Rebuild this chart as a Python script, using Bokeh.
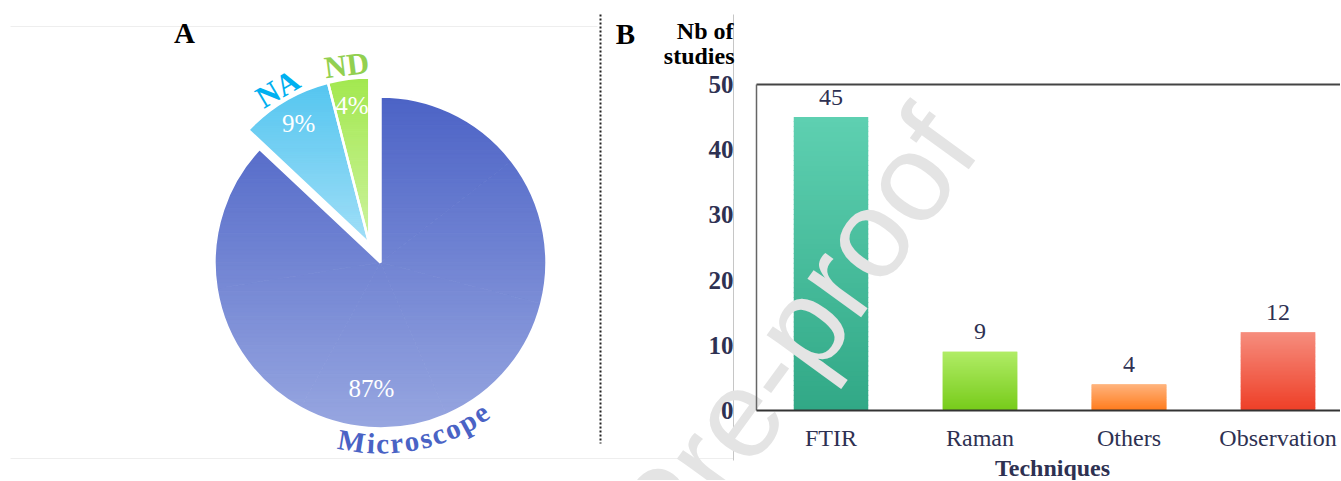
import numpy as np
from bokeh.plotting import figure
from bokeh.models import Range1d
from bokeh.embed import file_html
from bokeh.resources import INLINE
from bokeh.core.properties import value

# ---------------- data ----------------
pie_labels = ["Microscope", "NA", "ND"]
pie_values = [87, 9, 4]
pie_pct_text = ["87%", "9%", "4%"]

techniques = ["FTIR", "Raman", "Others", "Observation"]
n_studies = [45, 9, 4, 12]
y_ticks = [0, 10, 20, 30, 40, 50]

# ---------------- styles ----------------
pie_top = ["#4c63c6", "#55c6f0", "#a3e84f"]
pie_bot = ["#97a6e0", "#a0def7", "#cdf3a0"]
pie_label_colors = ["#4a63c5", "#00b0f0", "#92d050"]
bar_top = ["#5ed0b1", "#b0ec66", "#ffb37d", "#f68d7e"]
bar_bot = ["#31a886", "#77cb1a", "#ff7b1c", "#ee3f27"]
SERIF = "Liberation Serif"
NAVY = "#2e3152"

W, H = 1340, 480


def hex2rgb(h):
    h = h.lstrip("#")
    return np.array([int(h[i:i + 2], 16) for i in (0, 2, 4)], dtype=float)


def mix(c0, c1, t):
    a, b = hex2rgb(c0), hex2rgb(c1)
    c = a + (b - a) * t
    return "#%02x%02x%02x" % tuple(int(round(v)) for v in c)


def clip_y(pts, lo, hi):
    for bound, above in ((lo, True), (hi, False)):
        out = []
        n = len(pts)
        if n == 0:
            return []
        for i in range(n):
            p0 = pts[i]
            q0 = pts[(i + 1) % n]
            pin = (p0[1] >= bound) if above else (p0[1] <= bound)
            qin = (q0[1] >= bound) if above else (q0[1] <= bound)
            if pin:
                out.append(p0)
            if pin != qin:
                t = (bound - p0[1]) / (q0[1] - p0[1])
                out.append((p0[0] + t * (q0[0] - p0[0]), bound))
        pts = out
    return pts


p = figure(width=W, height=H, x_range=Range1d(0, W), y_range=Range1d(0, H),
           output_backend="svg", toolbar_location=None, x_axis_type=None,
           y_axis_type=None, min_border=0, title=None)
p.outline_line_color = None

# faint page lines and separators (pixel units, y up)
p.line([10, 597], [H - 26, H - 26], line_color="#eeeeee", line_width=1)
p.line([10, 733], [H - 458, H - 458], line_color="#eeeeee", line_width=1)
p.line([733, 733], [H - 14, H - 460], line_color="#c6c6c6", line_width=1)
p.line([600, 600], [H - 14, H - 443], line_color="#222222", line_width=2, line_dash="2 2")

# ---------------- pie (panel A), 1 data unit = 1 px ----------------
CX, CY, R = 380.0, 218.0, 166.0
shift_ang = np.deg2rad(120.6)
shift_d = 22.0
sdx, sdy = shift_d * np.cos(shift_ang), shift_d * np.sin(shift_ang)
offsets = [(0.0, 0.0), (sdx, sdy), (sdx, sdy)]

vals = np.array(pie_values, dtype=float)
frac = vals / vals.sum()
cum = np.concatenate([[0], np.cumsum(frac)])
a0 = 90.0 - cum[:-1] * 360.0   # start angles (deg), clockwise
a1 = 90.0 - cum[1:] * 360.0
bis = (a0 + a1) / 2.0

NB = 80
band_xs, band_ys, band_cols = [], [], []
for i in range(len(vals)):
    cx, cy = CX + offsets[i][0], CY + offsets[i][1]
    full = np.deg2rad(np.linspace(a0[i], a1[i], 400))
    fy = cy + R * np.sin(full)
    ytop, ybot = max(fy.max(), cy), min(fy.min(), cy)
    npieces = int(np.ceil((a0[i] - a1[i]) / 60.0))
    edges = np.linspace(a0[i], a1[i], npieces + 1)
    h = (ytop - ybot) / NB
    for j in range(npieces):
        angs = np.deg2rad(np.linspace(edges[j], edges[j + 1], 80))
        poly = [(cx, cy)] + [(cx + R * np.cos(a), cy + R * np.sin(a)) for a in angs]
        for k in range(NB):
            hi = ytop - k * h + 0.3
            lo = ytop - (k + 1) * h - 0.3
            c = clip_y(poly, lo, hi)
            if len(c) < 3:
                continue
            band_xs.append([q[0] for q in c])
            band_ys.append([q[1] for q in c])
            band_cols.append(mix(pie_top[i], pie_bot[i], (k + 0.5) / NB))

p.patches(band_xs, band_ys, fill_color=band_cols, line_color=band_cols, line_width=0.7)

# white slice borders
p.wedge(x=[CX + o[0] for o in offsets], y=[CY + o[1] for o in offsets], radius=R,
        start_angle=list(np.deg2rad(a0)), end_angle=list(np.deg2rad(a1)),
        direction="clock", fill_alpha=0, line_color="white", line_width=2.5)

# percentage labels
pct_x, pct_y = [], []
for i in range(len(vals)):
    if i == 0:
        pct_x.append(CX - 9)
        pct_y.append(CY - 126)
    else:
        cx, cy = CX + offsets[i][0], CY + offsets[i][1]
        pct_x.append(cx + 139 * np.cos(np.deg2rad(bis[i])))
        pct_y.append(cy + 139 * np.sin(np.deg2rad(bis[i])))
p.text(pct_x, pct_y, text=pie_pct_text, text_color="white", text_font=value(SERIF),
       text_font_size="25px", text_align="center", text_baseline="middle")

# category labels NA / ND along slice bisectors
for i in (1, 2):
    cx, cy = CX + offsets[i][0], CY + offsets[i][1]
    rc = 180
    p.text([cx + rc * np.cos(np.deg2rad(bis[i]))], [cy + rc * np.sin(np.deg2rad(bis[i]))],
           text=[pie_labels[i]], angle=np.deg2rad(bis[i] - 90), text_color=pie_label_colors[i],
           text_font=value(SERIF), text_font_style="bold", text_font_size="31px",
           text_align="center", text_baseline="middle")

# curved "Microscope" label
adv = {"M": .943, "i": .278, "c": .444, "r": .444, "o": .5, "s": .389, "p": .556, "e": .444}
word = pie_labels[0]
fs = 29
spacing = 1.1
rc = 181.0
centre_deg = -79.0
w = [adv[ch] for ch in word]
tot = sum(w)
lx, ly, la = [], [], []
acc = 0.0
for ch, wi in zip(word, w):
    c = acc + wi / 2.0
    acc += wi
    off = (c - tot / 2.0) * fs * spacing
    ang = np.deg2rad(centre_deg) + off / rc
    lx.append(CX + rc * np.cos(ang))
    ly.append(CY + rc * np.sin(ang))
    la.append(ang + np.pi / 2)
p.text(lx, ly, text=list(word), angle=la, text_color=pie_label_colors[0],
       text_font=value(SERIF), text_font_style="bold", text_font_size="%dpx" % fs,
       text_align="center", text_baseline="middle")

p.text([184], [H - 32], text=["A"], text_font=value(SERIF), text_font_style="bold",
       text_font_size="29px", text_color="black", text_align="center", text_baseline="middle")

# ---------------- bars (panel B) on their own scales ----------------
FRAME_LEFT, BASE_Y, TOP_Y = 756.0, 410.0, 84.0
PX_PER_CAT = 149.0
YPX = (BASE_Y - TOP_Y) / 50.0
p.extra_x_ranges = {"bx": Range1d(-FRAME_LEFT / PX_PER_CAT, (W - FRAME_LEFT) / PX_PER_CAT)}
p.extra_y_ranges = {"by": Range1d(-(H - BASE_Y) / YPX, BASE_Y / YPX)}
XEND = (W - FRAME_LEFT) / PX_PER_CAT
BR = dict(x_range_name="bx", y_range_name="by")

xs = np.arange(len(techniques)) + 0.5
NBAR = 60
bx, bb, bt, bc = [], [], [], []
for i, v in enumerate(n_studies):
    for k in range(NBAR):
        bx.append(xs[i])
        bb.append(v * k / NBAR)
        bt.append(min(v, v * (k + 1) / NBAR + 0.15))
        bc.append(mix(bar_bot[i], bar_top[i], (k + 0.5) / NBAR))
p.vbar(x=bx, width=0.5, bottom=bb, top=bt, fill_color=bc, line_color=None, **BR)

# watermark
p.text([947], [H - 124], text=["Journal Pre-proof"], angle=np.deg2rad(54),
       text_font=value("Liberation Sans"), text_font_size="125px", text_color="#e4e4e4",
       text_align="right", text_baseline="alphabetic")

# frame lines / axes
p.line([0, XEND], [50, 50], line_color="#444444", line_width=2, **BR)
p.line([0, 0], [0, 50], line_color="#666666", line_width=1.5, **BR)
p.line([0, XEND], [0, 0], line_color="#333333", line_width=2, **BR)

# y tick labels
p.text([0] * len(y_ticks), y_ticks, text=[str(t) for t in y_ticks], x_offset=-23,
       text_font=value(SERIF), text_font_style="bold", text_font_size="25px",
       text_color=NAVY, text_align="right", text_baseline="middle", **BR)
# x tick labels
p.text(xs, [0] * len(xs), text=techniques, y_offset=14, text_font=value(SERIF),
       text_font_size="24px", text_color=NAVY, text_align="center", text_baseline="top", **BR)
# value labels
p.text(xs, n_studies, text=[str(v) for v in n_studies], y_offset=-20,
       text_font=value(SERIF), text_font_size="24px", text_color=NAVY,
       text_align="center", text_baseline="middle", **BR)

# titles of panel B (pixel units)
p.text([625], [H - 33], text=["B"], text_font=value(SERIF), text_font_style="bold",
       text_font_size="29px", text_color="black", text_align="center", text_baseline="middle")
p.text([733, 734], [H - 30, H - 55], text=["Nb of", "studies"], text_font=value(SERIF),
       text_font_style="bold", text_font_size="24px", text_color="black",
       text_align="right", text_baseline="middle")
p.text([1052], [H - 467], text=["Techniques"], text_font=value(SERIF), text_font_style="bold",
       text_font_size="24px", text_color=NAVY, text_align="center", text_baseline="middle")

open("out.html", "w").write(file_html(p, INLINE))
